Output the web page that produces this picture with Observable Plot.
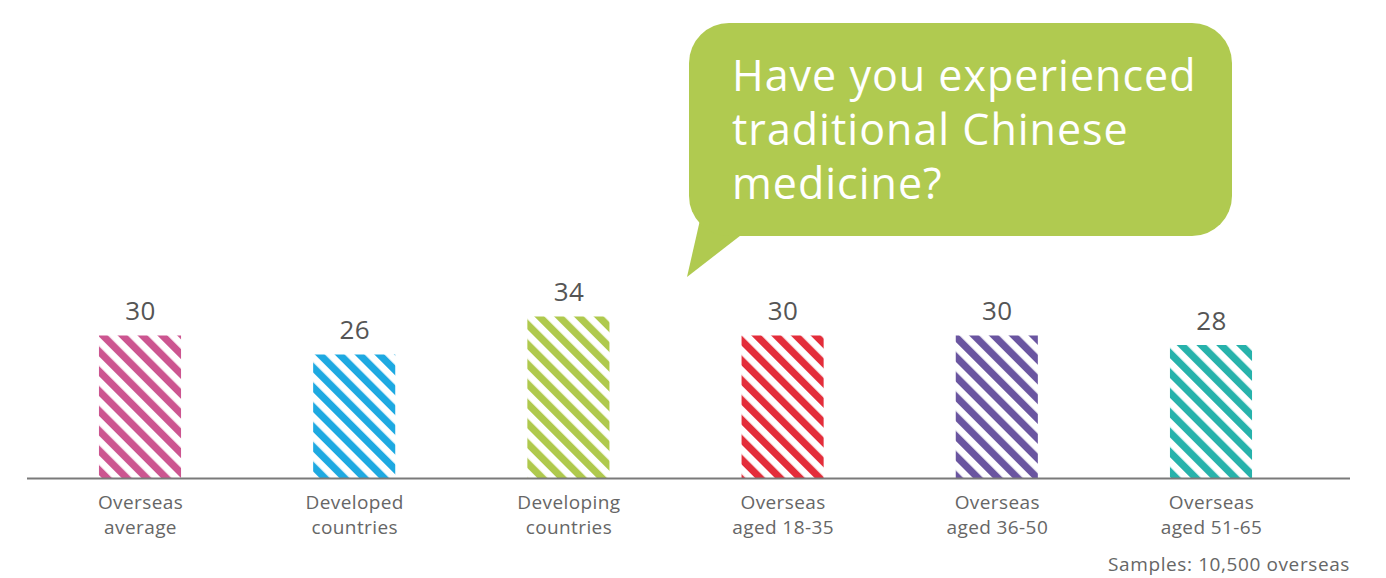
<!DOCTYPE html>
<html>
<head>
<meta charset="utf-8">
<script src="https://cdn.jsdelivr.net/npm/d3@7"></script>
<script src="https://cdn.jsdelivr.net/npm/@observablehq/plot@0.6"></script>
<style>
  html, body { margin: 0; padding: 0; background: #fff; }
  #wrap { position: relative; width: 1386px; height: 578px; font-family: "Open Sans", Lato, sans-serif; overflow: hidden; }
  #bubble { position: absolute; left: 689px; top: 23px; width: 543px; height: 213px; background: #b0ca50; border-radius: 40px; box-sizing: border-box; padding: 25px 0 0 43px; color: #fff; font-size: 43px; letter-spacing: 1px; line-height: 54px; }
  #tail { position: absolute; left: 0; top: 0; }
  #caption { position: absolute; right: 36px; top: 551px; font-size: 19px; letter-spacing: 0.6px; color: #666; }
  #chart svg text { letter-spacing: 0.4px; }
</style>
</head>
<body>
<div id="wrap">
  <svg width="0" height="0" style="position:absolute">
    <defs id="defs"></defs>
  </svg>
  <div id="chart"></div>
  <svg id="tail" width="1386" height="300"><polygon points="700,220 687,277 745,232" fill="#b0ca50"/></svg>
  <div id="bubble">Have you experienced<br>traditional Chinese<br>medicine?</div>
  <div id="caption">Samples: 10,500 overseas</div>
</div>
<script>
const categories = ["Overseas\naverage", "Developed\ncountries", "Developing\ncountries", "Overseas\naged 18-35", "Overseas\naged 36-50", "Overseas\naged 51-65"];
const values = [30, 26, 34, 30, 30, 28];
const colors = ["#cc5590", "#1ea9e1", "#afc94d", "#e32d3a", "#6a55a0", "#27b2ab"];

// stripe patterns
const defs = d3.select("#defs");
const patternIds = colors.map((c, i) => {
  const id = "stripe" + i;
  const p = defs.append("pattern")
    .attr("id", id)
    .attr("patternUnits", "userSpaceOnUse")
    .attr("width", 14).attr("height", 14)
    .attr("patternTransform", "rotate(-45)");
  p.append("rect").attr("width", 14).attr("height", 14).attr("fill", "#fff");
  p.append("rect").attr("x", 0).attr("width", 7.2).attr("height", 14).attr("fill", c);
  return `url(#${id})`;
});

const data = categories.map((cat, i) => ({cat, value: values[i]}));

const chart = Plot.plot({
  width: 1386,
  height: 548,
  marginLeft: 27,
  marginRight: 36,
  marginTop: 0,
  marginBottom: 70,
  style: {fontFamily: "'Open Sans', Lato, sans-serif", color: "#666", background: "transparent"},
  x: {type: "band", domain: categories, range: [34.7, 1316.3], paddingInner: 0.6168, paddingOuter: 0.3, align: 0.5, round: false},
  y: {domain: [0, 100], range: [478, 3], axis: null},
  color: {type: "ordinal", domain: categories, range: patternIds},
  marks: [
    Plot.barY(data, {x: "cat", y: "value", fill: "cat"}),
    Plot.ruleY([0], {stroke: "#7a7a7a", strokeWidth: 2}),
    Plot.text(data, {x: "cat", y: "value", text: d => String(d.value), dy: -24, fontSize: 26, fill: "#555"}),
    Plot.axisX({tickSize: 0, tickPadding: 13, fontSize: 19, lineHeight: 1.32, color: "#666", label: null})
  ]
});
document.getElementById("chart").appendChild(chart);
</script>
</body>
</html>
